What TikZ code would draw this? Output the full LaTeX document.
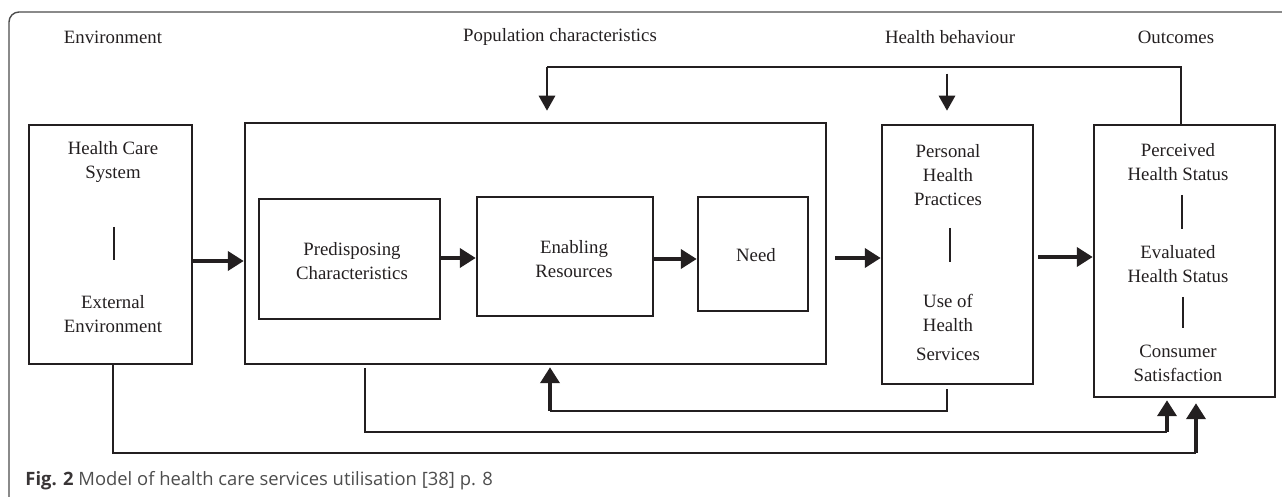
\documentclass[tikz,border=0pt]{standalone}
\usepackage{fontspec}
\setmainfont{Liberation Serif}
\newfontfamily\capfont{Open Sans}
\usetikzlibrary{arrows.meta, calc}

\definecolor{ink}{HTML}{231F20}
\definecolor{capgray}{HTML}{4D4D4D}

\begin{document}
\begin{tikzpicture}[x=0.5pt, y=-0.5pt, ink,
  box/.style 2 args = {draw, line width=1.25pt, minimum width=#1*0.5pt,
                       minimum height=#2*0.5pt, inner sep=0pt},
  lbl/.style  = {align=center, font=\fontsize{9.4}{12}\selectfont, inner sep=0pt},
  link/.style = {line width=1pt},
  bar/.style  = {line width=1.1pt},
  bigarrow/.style = {line width=2.4pt, -{Triangle[length=8pt,width=9.5pt]}},
  fbarrow/.style  = {line width=1.4pt, -{Triangle[length=7.5pt,width=8pt]}},
  ]
  \useasboundingbox (0,0) rectangle (1282,497);
  % frame
  \draw[black!70, line width=0.7pt, rounded corners=5pt] (1282,12) -- (9,12) -- (9,497);

  % column heads
  \node[lbl] (hEnv) at (113,37) {Environment};
  \node[lbl] (hPop) at (560,37) {Population characteristics};
  \node[lbl] (hBeh) at (950,37) {Health behaviour};
  \node[lbl] (hOut) at (1176,37) {Outcomes};

  % boxes
  \node[box={163}{239}] (hcs)  at (110.5,244.5) {};
  \node[box={581}{241}] (pop)  at (535.5,243.5) {};
  \node[box={181}{120}] (pre)  at (349.5,259) {};
  \node[box={176}{119}] (ena)  at (565,256.5) {};
  \node[box={110}{114}] (need) at (753,254) {};
  \node[box={151}{259}] (pers) at (957.5,254.5) {};
  \node[box={181}{272}] (out)  at (1184.5,261) {};

  % texts in boxes
  \node[lbl] (hcsA) at (113,162) {Health Care\\System};
  \node[lbl] (hcsB) at (113,314) {External\\Environment};
  \draw[bar] (114,227) -- (114,260);
  \node[lbl] (preT)  at (352,261) {Predisposing\\Characteristics};
  \node[lbl] (enaT)  at (574,259) {Enabling\\Resources};
  \node[lbl] (needT) at (756,255) {Need};
  \node[lbl] (persA) at (948,175) {Personal\\Health\\Practices};
  \node[lbl] (persB) at (948,327) {Use of\\Health\\[2.5pt]Services};
  \draw[bar] (950,228) -- (950,262);
  \node[lbl] (outA) at (1178,162) {Perceived\\Health Status};
  \draw[bar] (1182,195) -- (1182,229);
  \node[lbl] (outB) at (1178,264) {Evaluated\\Health Status};
  \draw[bar] (1183,297) -- (1183,328);
  \node[lbl] (outC) at (1178,363) {Consumer\\Satisfaction};

  % main flow
  \draw[bigarrow] (hcs.east |- 0,261) -- (pop.west |- 0,261);
  \draw[bigarrow] (pre.east |- 0,258) -- (ena.west |- 0,258);
  \draw[bigarrow] (ena.east |- 0,259) -- (need.west |- 0,259);
  \draw[bigarrow] ([xshift=4pt]pop.east |- 0,258) -- (pers.west |- 0,258);
  \draw[bigarrow] ([xshift=2pt]pers.east |- 0,257) -- (out.west |- 0,257);

  % feedback on top
  \coordinate (topL) at (547,67);
  \draw[link] (out.north -| 1181,0) |- (topL);
  \draw[fbarrow] (topL) -- ([yshift=5.5pt]pop.north -| topL);
  \draw[fbarrow] ([yshift=25pt]pers.north -| 947,0) -- ([yshift=6.5pt]pers.north -| 947,0);

  % feedback below
  \coordinate (useL) at (550,411);
  \draw[link] ([yshift=-2pt]pers.south -| 947,0) |- (useL);
  \draw[bigarrow] (useL) -- ([yshift=-1pt]pop.south -| useL);
  \coordinate (popR) at (1167,432);
  \draw[link] ([yshift=-1.5pt]pop.south -| 365,0) |- (popR);
  \draw[bigarrow] (popR) -- ([yshift=-1pt]out.south -| popR);
  \coordinate (hcsR) at (1196,453);
  \draw[link] (hcs.south -| 113,0) |- (hcsR);
  \draw[bigarrow] (hcsR) -- ([yshift=-2.5pt]out.south -| hcsR);

  % caption
  \node[anchor=west, inner sep=0pt, text=capgray,
        font=\capfont\fontsize{9.2}{11}\selectfont] (cap) at (25,481)
    {\textbf{\color{ink!90}Fig. 2} Model of health care services utilisation [38] p. 8};
\end{tikzpicture}
\end{document}
